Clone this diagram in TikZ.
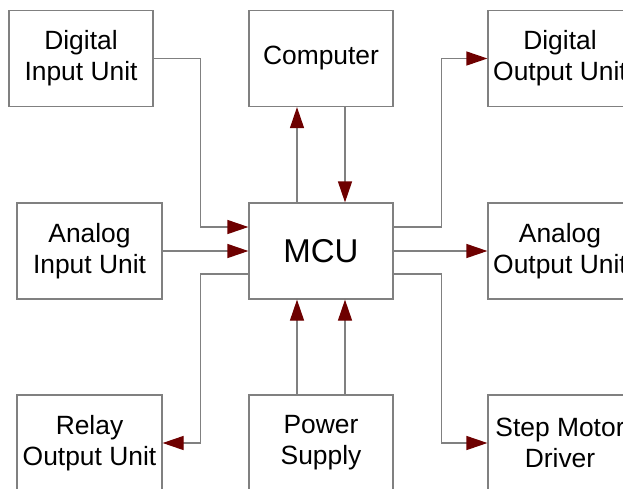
\documentclass[tikz,border=0pt]{standalone}
\usepackage{fontspec}
\setmainfont{Liberation Sans}
\usepackage{tikz}
\usetikzlibrary{arrows.meta}

\definecolor{linegray}{RGB}{128,128,128}
\definecolor{arrowred}{RGB}{110,0,0}

\tikzset{
  unit/.style={draw=linegray, line width=1.2pt, minimum width=144pt, minimum height=96pt,
               align=center, font=\fontsize{26.4}{31}\selectfont, inner sep=2pt},
  link/.style={draw=linegray, line width=1.2pt,
               -{Triangle[length=21pt,width=14pt,color=arrowred]}}
}

\begin{document}
\begin{tikzpicture}[x=1pt,y=-1pt]
	\useasboundingbox (0,0) rectangle (623,488);
	% units
	\node[unit] (dinput) at (81,58.5) {Digital\\Input Unit};
	\node[unit] (comp) at (321,58.5) {Computer};
	\node[unit] (doutput) at (560,58.5) {Digital\\Output Unit};
	\node[unit, minimum width=145pt] (ainput) at (89.5,251) {Analog\\Input Unit};
	\node[unit, font=\fontsize{33}{38}\selectfont] (mcu) at (321,251) {MCU};
	\node[unit] (aoutput) at (560,251) {Analog\\Output Unit};
	\node[unit, minimum width=145pt] (relay) at (89.5,443) {Relay\\Output Unit};
	\node[unit] (power) at (321,443) {Power\\Supply};
	\node[unit] (stepm) at (560,443) {Step Motor\\Driver};
	% left side
	\draw[link] (dinput.east) -| ([xshift=-48pt,yshift=24pt]mcu.west) -- ([yshift=24pt]mcu.west);
	\draw[link] (ainput.east) -- (mcu.west);
	\draw[link] ([yshift=-23pt]mcu.west) -- ([xshift=-48pt,yshift=-23pt]mcu.west) |- (relay.east);
	% computer and power
	\draw[link] ([xshift=-24pt]mcu.north) -- ([xshift=-24pt]comp.south);
	\draw[link] ([xshift=24pt]comp.south) -- ([xshift=24pt]mcu.north);
	\draw[link] ([xshift=-24pt]power.north) -- ([xshift=-24pt]mcu.south);
	\draw[link] ([xshift=24pt]power.north) -- ([xshift=24pt]mcu.south);
	% right side
	\draw[link] ([yshift=24pt]mcu.east) -- ([xshift=48pt,yshift=24pt]mcu.east) |- (doutput.west);
	\draw[link] (mcu.east) -- (aoutput.west);
	\draw[link] ([yshift=-23pt]mcu.east) -- ([xshift=48pt,yshift=-23pt]mcu.east) |- (stepm.west);
\end{tikzpicture}
\end{document}
